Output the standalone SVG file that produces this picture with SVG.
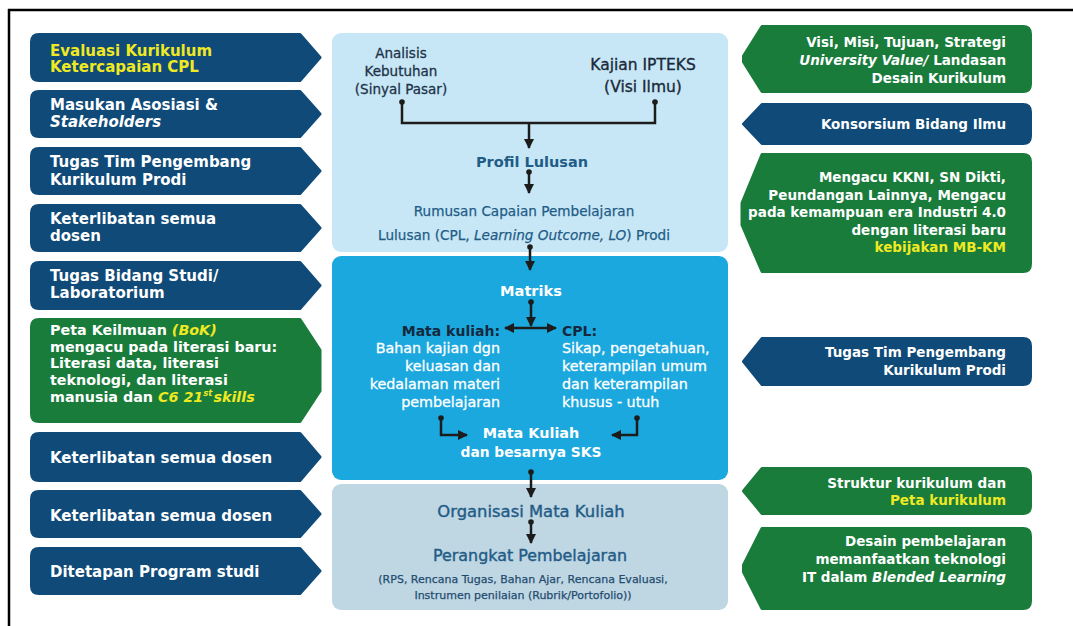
<svg xmlns="http://www.w3.org/2000/svg" width="1073" height="626" viewBox="0 0 1073 626">
<defs>
<marker id="ah" markerUnits="userSpaceOnUse" markerWidth="10" markerHeight="10" refX="9" refY="5" orient="auto"><path d="M0,0 L10,5 L0,10 Z" fill="#1c1c1c"/></marker>
</defs>
<style>
text{font-family:"DejaVu Sans","Liberation Sans",sans-serif}
.navy{fill:#0f4a78;stroke:#0f4a78;stroke-width:3;stroke-linejoin:round}
.green{fill:#197c3b;stroke:#197c3b;stroke-width:3;stroke-linejoin:round}
.lt{fill:#ffffff;font-weight:bold;font-size:15px}
.lg{fill:#ffffff;font-weight:bold;font-size:14.3px}
.rt{fill:#ffffff;font-weight:bold;font-size:13.5px;text-anchor:end}
.yl{fill:#efe923}
.it{font-style:italic}
.c{text-anchor:middle}
.e{text-anchor:end}
.dk{fill:#1d3348;font-size:13.5px;stroke:#1d3348;stroke-width:0.3}
.dk2{fill:#1a2a3a;font-size:15.5px;stroke:#1a2a3a;stroke-width:0.35}
.tl{fill:#1f5c86}
.wh{fill:#ffffff}
.conn{fill:none;stroke:#1c1c1c;stroke-width:2.5}
.dot{fill:#1c1c1c}
</style>

<line x1="8" y1="10" x2="1073" y2="10" stroke="#000" stroke-width="2.5"/>
<line x1="9" y1="9" x2="9" y2="626" stroke="#000" stroke-width="2.5"/>

<!-- Center panels -->
<g id="panel-top">
<rect x="332" y="33" width="396" height="219" rx="9" fill="#c8e7f6"/>
<g id="analisis">
<text class="dk c" x="401" y="58">Analisis</text>
<text class="dk c" x="401" y="76">Kebutuhan</text>
<text class="dk c" x="401" y="94">(Sinyal Pasar)</text>
</g>
<g id="kajian">
<text class="dk2 c" x="643" y="70">Kajian IPTEKS</text>
<text class="dk2 c" x="643" y="92">(Visi Ilmu)</text>
</g>
<g id="profil">
<text class="tl c" x="532" y="167" font-weight="bold" font-size="14.5">Profil Lulusan</text>
</g>
<g id="rumusan">
<text class="tl c" x="524" y="216" font-size="13.6" stroke="#1f5c86" stroke-width="0.25">Rumusan Capaian Pembelajaran</text>
<text class="tl c" x="524" y="240" font-size="13.6" stroke="#1f5c86" stroke-width="0.25">Lulusan (CPL, <tspan class="it">Learning Outcome, LO</tspan>) Prodi</text>
</g>
</g>

<g id="panel-mid">
<rect x="332" y="256" width="396" height="224" rx="9" fill="#1ba8de"/>
<g id="matriks">
<text class="wh c" x="531" y="296" font-weight="bold" font-size="14.6">Matriks</text>
</g>
<g id="matakuliah-left">
<text class="e" x="500" y="336" font-weight="bold" font-size="14" fill="#14293d">Mata kuliah:</text>
<text class="wh e" x="500" y="353" font-size="14.3" stroke="#fff" stroke-width="0.3">Bahan kajian dgn</text>
<text class="wh e" x="500" y="371" font-size="14.3" stroke="#fff" stroke-width="0.3">keluasan dan</text>
<text class="wh e" x="500" y="389" font-size="14.3" stroke="#fff" stroke-width="0.3">kedalaman materi</text>
<text class="wh e" x="500" y="407" font-size="14.3" stroke="#fff" stroke-width="0.3">pembelajaran</text>
</g>
<g id="cpl-right">
<text x="562" y="336" font-weight="bold" font-size="14" fill="#14293d">CPL:</text>
<text class="wh" x="562" y="353" font-size="14.3" stroke="#fff" stroke-width="0.3">Sikap, pengetahuan,</text>
<text class="wh" x="562" y="371" font-size="14.3" stroke="#fff" stroke-width="0.3">keterampilan umum</text>
<text class="wh" x="562" y="389" font-size="14.3" stroke="#fff" stroke-width="0.3">dan keterampilan</text>
<text class="wh" x="562" y="407" font-size="14.3" stroke="#fff" stroke-width="0.3">khusus - utuh</text>
</g>
<g id="mk-sks">
<text class="wh c" x="531" y="438" font-weight="bold" font-size="14.4">Mata Kuliah</text>
<text class="wh c" x="531" y="457" font-weight="bold" font-size="13.8">dan besarnya SKS</text>
</g>
</g>

<g id="panel-bottom">
<rect x="332" y="484" width="396" height="126" rx="9" fill="#bfd6e3"/>
<g id="organisasi">
<text class="tl c" x="531" y="517" font-size="16.4" stroke="#1f5c86" stroke-width="0.4">Organisasi Mata Kuliah</text>
</g>
<g id="perangkat">
<text class="tl c" x="530" y="561" font-size="15.9" stroke="#1f5c86" stroke-width="0.4">Perangkat Pembelajaran</text>
<text class="c" x="523" y="583" font-size="11" fill="#1f4c70" stroke="#1f4c70" stroke-width="0.25">(RPS, Rencana Tugas, Bahan Ajar, Rencana Evaluasi,</text>
<text class="c" x="523" y="599" font-size="11" fill="#1f4c70" stroke="#1f4c70" stroke-width="0.25">Instrumen penilaian (Rubrik/Portofolio))</text>
</g>
</g>

<!-- Left column -->
<g id="L1">
<path class="navy" d="M39,34.5 H300 L320,57.5 L300,80.5 H39 Q31.5,80.5 31.5,73 V42 Q31.5,34.5 39,34.5 Z"/>
<text class="lt yl" x="50" y="56">Evaluasi Kurikulum</text>
<text class="lt yl" x="50" y="72">Ketercapaian CPL</text>
</g>
<g id="L2">
<path class="navy" d="M39,91.5 H300 L320,114 L300,136.5 H39 Q31.5,136.5 31.5,129 V99 Q31.5,91.5 39,91.5 Z"/>
<text class="lt" x="50" y="110">Masukan Asosiasi &amp;</text>
<text class="lt it" x="50" y="127">Stakeholders</text>
</g>
<g id="L3">
<path class="navy" d="M39,148.5 H300 L320,171 L300,193.5 H39 Q31.5,193.5 31.5,186 V156 Q31.5,148.5 39,148.5 Z"/>
<text class="lt" x="50" y="167">Tugas Tim Pengembang</text>
<text class="lt" x="50" y="185">Kurikulum Prodi</text>
</g>
<g id="L4">
<path class="navy" d="M39,205.5 H300 L320,228 L300,250.5 H39 Q31.5,250.5 31.5,243 V213 Q31.5,205.5 39,205.5 Z"/>
<text class="lt" x="50" y="224">Keterlibatan semua</text>
<text class="lt" x="50" y="241">dosen</text>
</g>
<g id="L5">
<path class="navy" d="M39,262.5 H300 L320,285.5 L300,308.5 H39 Q31.5,308.5 31.5,301 V270 Q31.5,262.5 39,262.5 Z"/>
<text class="lt" x="50" y="281">Tugas Bidang Studi/</text>
<text class="lt" x="50" y="298">Laboratorium</text>
</g>
<g id="L6">
<path class="green" d="M39,319.5 H300 L320,350 L320,391 L300,421.5 H39 Q31.5,421.5 31.5,414 V327 Q31.5,319.5 39,319.5 Z"/>
<text class="lg" x="50" y="335">Peta Keilmuan <tspan class="yl it">(BoK)</tspan></text>
<text class="lg" x="50" y="351.7">mengacu pada literasi baru:</text>
<text class="lg" x="50" y="368.4">Literasi data, literasi</text>
<text class="lg" x="50" y="385.1">teknologi, dan literasi</text>
<text class="lg" x="50" y="401.8">manusia dan <tspan class="yl it">C6 21<tspan font-size="8.5" dy="-6">st</tspan><tspan dy="6" dx="1">skills</tspan></tspan></text>
</g>
<g id="L7">
<path class="navy" d="M39,433.5 H300 L320,457 L300,480.5 H39 Q31.5,480.5 31.5,473 V441 Q31.5,433.5 39,433.5 Z"/>
<text class="lt" x="50" y="463">Keterlibatan semua dosen</text>
</g>
<g id="L8">
<path class="navy" d="M39,491.5 H300 L320,514 L300,536.5 H39 Q31.5,536.5 31.5,529 V499 Q31.5,491.5 39,491.5 Z"/>
<text class="lt" x="50" y="521">Keterlibatan semua dosen</text>
</g>
<g id="L9">
<path class="navy" d="M39,548.5 H300 L320,571 L300,593.5 H39 Q31.5,593.5 31.5,586 V556 Q31.5,548.5 39,548.5 Z"/>
<text class="lt" x="50" y="577">Ditetapan Program studi</text>
</g>

<!-- Right column -->
<g id="R1">
<path class="green" d="M1023,26.5 Q1030.5,26.5 1030.5,34 V84 Q1030.5,91.5 1023,91.5 H762 L743.5,62 L743.5,56 L762,26.5 Z"/>
<text class="rt" x="1006" y="47">Visi, Misi, Tujuan, Strategi</text>
<text class="rt" x="1006" y="65"><tspan class="it">University Value/</tspan> Landasan</text>
<text class="rt" x="1006" y="83">Desain Kurikulum</text>
</g>
<g id="R2">
<path class="navy" d="M1023,104.5 Q1030.5,104.5 1030.5,112 V136 Q1030.5,143.5 1023,143.5 H762 L743.5,124 L762,104.5 Z"/>
<text class="rt" x="1006" y="129">Konsorsium Bidang Ilmu</text>
</g>
<g id="R3">
<path class="green" d="M1023,154.5 Q1030.5,154.5 1030.5,162 V264 Q1030.5,271.5 1023,271.5 H762 L742,225 L742,203 L762,154.5 Z"/>
<text class="rt" x="1006" y="182">Mengacu KKNI, SN Dikti,</text>
<text class="rt" x="1006" y="199.5">Peundangan Lainnya, Mengacu</text>
<text class="rt" x="1006" y="217">pada kemampuan era Industri 4.0</text>
<text class="rt" x="1006" y="234.5">dengan literasi baru</text>
<text class="rt yl" x="1006" y="252">kebijakan MB-KM</text>
</g>
<g id="R4">
<path class="navy" d="M1023,338.5 Q1030.5,338.5 1030.5,346 V377 Q1030.5,384.5 1023,384.5 H762 L743.5,361.5 L762,338.5 Z"/>
<text class="rt" x="1006" y="357">Tugas Tim Pengembang</text>
<text class="rt" x="1006" y="375">Kurikulum Prodi</text>
</g>
<g id="R5">
<path class="green" d="M1023,468.5 Q1030.5,468.5 1030.5,476 V506 Q1030.5,513.5 1023,513.5 H762 L743.5,491 L762,468.5 Z"/>
<text class="rt" x="1006" y="488">Struktur kurikulum dan</text>
<text class="rt yl" x="1006" y="505">Peta kurikulum</text>
</g>
<g id="R6">
<path class="green" d="M1023,528.5 Q1030.5,528.5 1030.5,536 V601 Q1030.5,608.5 1023,608.5 H762 L743.5,572 L743.5,565 L762,528.5 Z"/>
<text class="rt" x="1006" y="546">Desain pembelajaran</text>
<text class="rt" x="1006" y="564">memanfaatkan teknologi</text>
<text class="rt" x="1006" y="582">IT dalam <tspan class="it">Blended Learning</tspan></text>
</g>

<!-- Connectors -->
<g id="connectors">
<path class="conn" d="M402,102 V123 H655 V102"/>
<circle class="dot" cx="402" cy="102" r="2.8"/>
<circle class="dot" cx="655" cy="102" r="2.8"/>
<path class="conn" d="M529,123 V148" marker-end="url(#ah)"/>
<circle class="dot" cx="529" cy="172" r="2.8"/>
<path class="conn" d="M529,172 V193" marker-end="url(#ah)"/>
<circle class="dot" cx="530" cy="247" r="2.8"/>
<path class="conn" d="M530,247 V270" marker-end="url(#ah)"/>
<circle class="dot" cx="531" cy="302" r="2.8"/>
<path class="conn" d="M531,302 V326" marker-end="url(#ah)"/>
<path class="conn" d="M531,328 H505" marker-end="url(#ah)"/>
<path class="conn" d="M531,328 H556" marker-end="url(#ah)"/>
<circle class="dot" cx="441" cy="418" r="2.8"/>
<path class="conn" d="M441,418 V435 H467" marker-end="url(#ah)"/>
<circle class="dot" cx="637" cy="418" r="2.8"/>
<path class="conn" d="M637,418 V435 H612" marker-end="url(#ah)"/>
<circle class="dot" cx="531" cy="472" r="2.8"/>
<path class="conn" d="M531,472 V497" marker-end="url(#ah)"/>
<circle class="dot" cx="531" cy="522" r="2.8"/>
<path class="conn" d="M531,522 V543" marker-end="url(#ah)"/>
</g>
</svg>
